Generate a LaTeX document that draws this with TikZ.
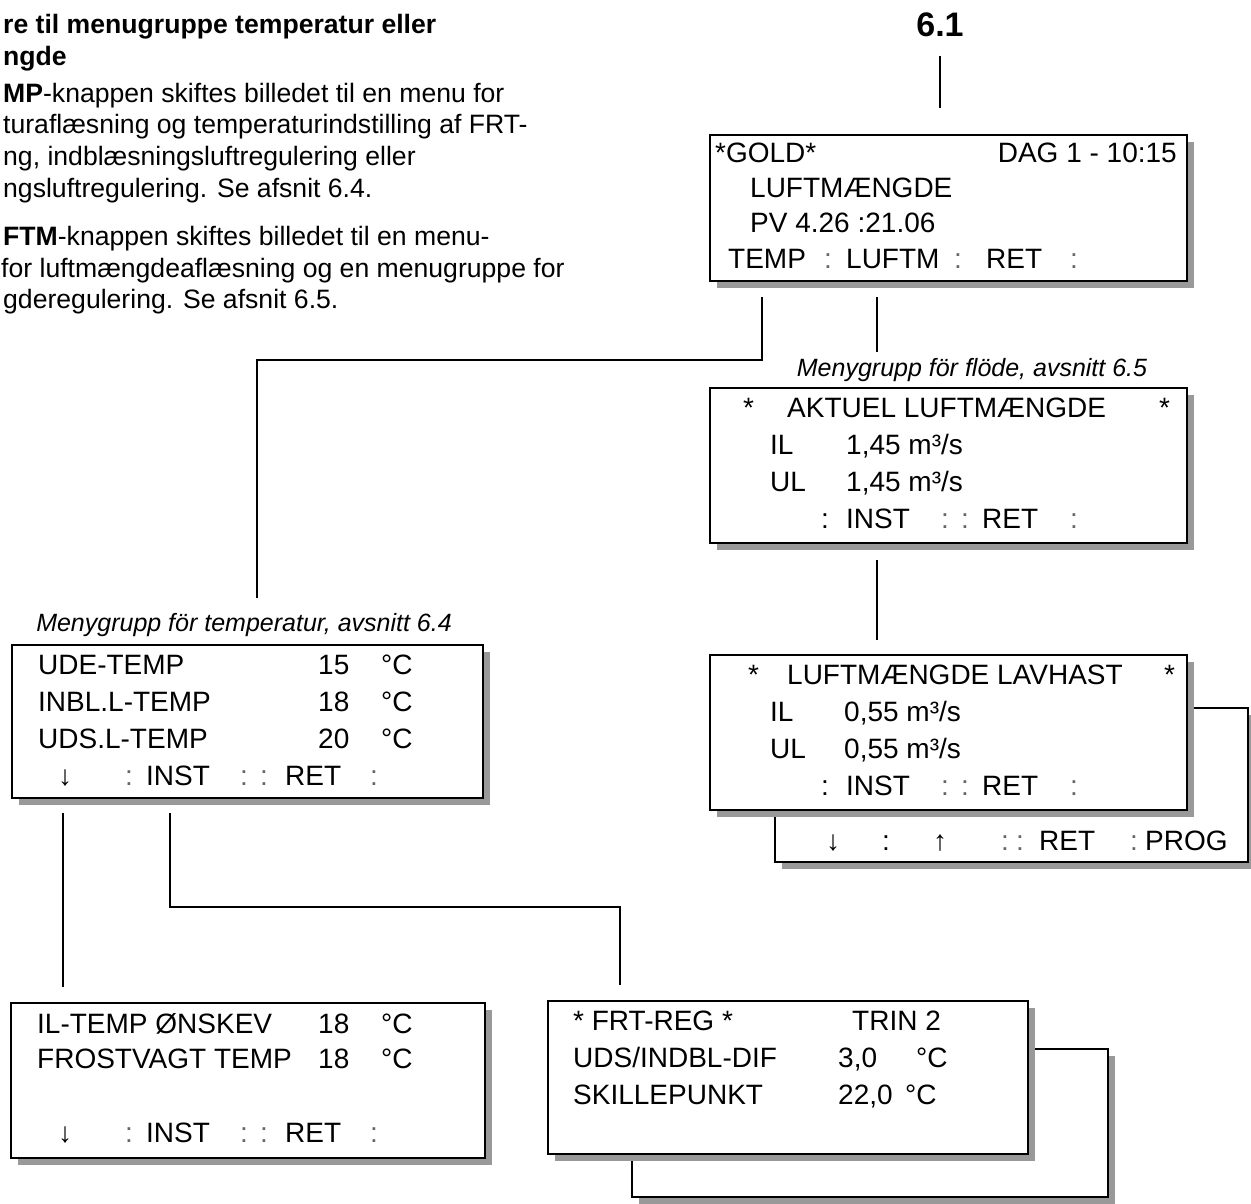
\documentclass[tikz,border=0pt]{standalone}
\usepackage{fontspec}
\setmainfont{Liberation Sans}
\usepackage{xcolor}
\usetikzlibrary{calc,shadows}
\definecolor{shade}{HTML}{999999}
\newcommand\dimc[1]{\textcolor{black!60}{#1}}

\begin{document}
\begin{tikzpicture}[x=1pt, y=-1pt,
  lcd/.style={draw, line width=2.4pt, fill=white, inner sep=0pt, outer sep=0pt, anchor=north west,
    general shadow={fill=shade, shadow xshift=7pt, shadow yshift=-7pt}},
  lcdtxt/.style={font=\fontsize{28}{33}\selectfont, anchor=base west, inner sep=0pt},
  menulbl/.style={font=\fontsize{25}{30}\selectfont\itshape, anchor=base, inner sep=0pt},
  bodytxt/.style={font=\fontsize{26.6}{31}\selectfont, anchor=base west, inner sep=0pt},
  link/.style={line width=2pt}]
  \useasboundingbox (0,0) rectangle (1251,1203);

  % text column, cut at the left edge
  \foreach \yy/\txt [count=\i] in {33/{re til menugruppe temperatur eller}, 65/{ngde}}
    \node[bodytxt, font=\fontsize{26.6}{31}\selectfont\bfseries] (head-\i) at (3,\yy) {\txt};
  \foreach \yy/\xx/\txt [count=\i] in {
    102/3/{\textbf{MP}-knappen skiftes billedet til en menu for},
    133/3/{turaflæsning og temperaturindstilling af FRT-},
    165/3/{ng, indblæsningsluftregulering eller},
    197/3/{ngsluftregulering. Se afsnit 6.4.},
    245/3/{\textbf{FTM}-knappen skiftes billedet til en menu-},
    277/1/{for luftmængdeaflæsning og en menugruppe for},
    308/3/{gderegulering. Se afsnit 6.5.}}
    \node[bodytxt] (body-\i) at (\xx,\yy) {\txt};

  \node[font=\fontsize{34}{40}\selectfont\bfseries, anchor=base, inner sep=0pt] (num) at (940,36) {6.1};

  % main display
  \node[lcd, minimum width=477pt, minimum height=146pt] (gold) at (710,135) {};
  \foreach \dx/\dy/\txt [count=\i] in {5/27/{*GOLD*}, 40/62/{LUFTMÆNGDE}, 40/97/{PV 4.26 :21.06},
      18/133/TEMP, 114/133/\dimc{:}, 136/133/LUFTM, 244/133/\dimc{:}, 276/133/RET, 360/133/\dimc{:}}
    \node[lcdtxt] (gold-\i) at ($(gold.north west)+(\dx,\dy)$) {\txt};
  \node[lcdtxt, anchor=base east] (gold-time) at ($(gold.north west)+(467,27)$) {DAG 1 - 10:15};

  % flow group
  \node[menulbl] (flowlbl) at (972,376) {Menygrupp för flöde, avsnitt 6.5};
  \node[lcd, minimum width=477pt, minimum height=155pt] (aktuel) at (710,388) {};
  \foreach \dx/\dy/\txt [count=\i] in {33/29/*, 77/29/{AKTUEL LUFTMÆNGDE}, 449/29/*,
      60/66/IL, 136/66/{1,45 m³/s}, 60/103/UL, 136/103/{1,45 m³/s},
      111/140/:, 136/140/INST, 231/140/\dimc{:}, 251/140/\dimc{:}, 272/140/RET, 360/140/\dimc{:}}
    \node[lcdtxt] (akt-\i) at ($(aktuel.north west)+(\dx,\dy)$) {\txt};

  \node[lcd, minimum width=473pt, minimum height=154pt] (lavback) at (775,708) {};
  \foreach \dx/\txt [count=\i] in {51/↓, 107/:, 158/↑, 226/\dimc{:}, 241/\dimc{:}, 264/RET, 355/\dimc{:}, 370/PROG}
    \node[lcdtxt] (lavb-\i) at ($(lavback.north west)+(\dx,142)$) {\txt};
  \node[lcd, minimum width=477pt, minimum height=155pt] (lavhast) at (710,655) {};
  \foreach \dx/\dy/\txt [count=\i] in {38/29/*, 77/29/{LUFTMÆNGDE LAVHAST}, 454/29/*,
      60/66/IL, 134/66/{0,55 m³/s}, 60/103/UL, 134/103/{0,55 m³/s},
      111/140/:, 136/140/INST, 231/140/\dimc{:}, 251/140/\dimc{:}, 272/140/RET, 360/140/\dimc{:}}
    \node[lcdtxt] (lav-\i) at ($(lavhast.north west)+(\dx,\dy)$) {\txt};

  % temperature group
  \node[menulbl] (templbl) at (244,631) {Menygrupp för temperatur, avsnitt 6.4};
  \node[lcd, minimum width=471pt, minimum height=153pt] (temp) at (12,645) {};
  \foreach \dx/\dy/\txt [count=\i] in {26/29/UDE-TEMP, 306/29/15, 369/29/°C,
      26/66/INBL.L-TEMP, 306/66/18, 369/66/°C, 26/103/UDS.L-TEMP, 306/103/20, 369/103/°C,
      46/140/↓, 113/140/\dimc{:}, 134/140/INST, 228/140/\dimc{:}, 248/140/\dimc{:}, 273/140/RET, 358/140/\dimc{:}}
    \node[lcdtxt] (tmp-\i) at ($(temp.north west)+(\dx,\dy)$) {\txt};

  \node[lcd, minimum width=474pt, minimum height=155pt] (iltemp) at (11,1003) {};
  \foreach \dx/\dy/\txt [count=\i] in {26/30/{IL-TEMP ØNSKEV}, 307/30/18, 370/30/°C,
      26/65/{FROSTVAGT TEMP}, 307/65/18, 370/65/°C,
      47/139/↓, 114/139/\dimc{:}, 135/139/INST, 229/139/\dimc{:}, 249/139/\dimc{:}, 274/139/RET, 359/139/\dimc{:}}
    \node[lcdtxt] (il-\i) at ($(iltemp.north west)+(\dx,\dy)$) {\txt};

  \node[lcd, minimum width=476pt, minimum height=148pt] (frtback) at (632,1049) {};
  \node[lcd, minimum width=480pt, minimum height=153pt] (frt) at (548,1001) {};
  \foreach \dx/\dy/\txt [count=\i] in {25/29/{* FRT-REG *}, 304/29/{TRIN 2},
      25/66/{UDS/INDBL-DIF}, 290/66/{3,0}, 368/66/°C,
      25/103/SKILLEPUNKT, 290/103/{22,0}, 357/103/°C}
    \node[lcdtxt] (frt-\i) at ($(frt.north west)+(\dx,\dy)$) {\txt};

  % connectors
  \coordinate (tsplit) at (762,360);
  \coordinate (tdrop) at (257,598);
  \coordinate (fdrop) at (877,352);
  \coordinate (ildrop) at (63,987);
  \coordinate (fsplit) at (170,907);
  \coordinate (frtdrop) at (620,985);
  \draw[link, shorten <=19pt, shorten >=27pt] (num.south) -- (num.south |- gold.north);
  \draw[link] ($(gold.south -| tsplit)+(0,16)$) -- (tsplit) -| (tdrop);
  \draw[link] ($(gold.south -| fdrop)+(0,16)$) -- (fdrop);
  \draw[link, shorten <=17pt, shorten >=15pt] (aktuel.south -| fdrop) -- (lavhast.north -| fdrop);
  \draw[link] ($(temp.south -| ildrop)+(0,15)$) -- (ildrop);
  \draw[link] ($(temp.south -| fsplit)+(0,15)$) -- (fsplit) -| (frtdrop);
\end{tikzpicture}
\end{document}
